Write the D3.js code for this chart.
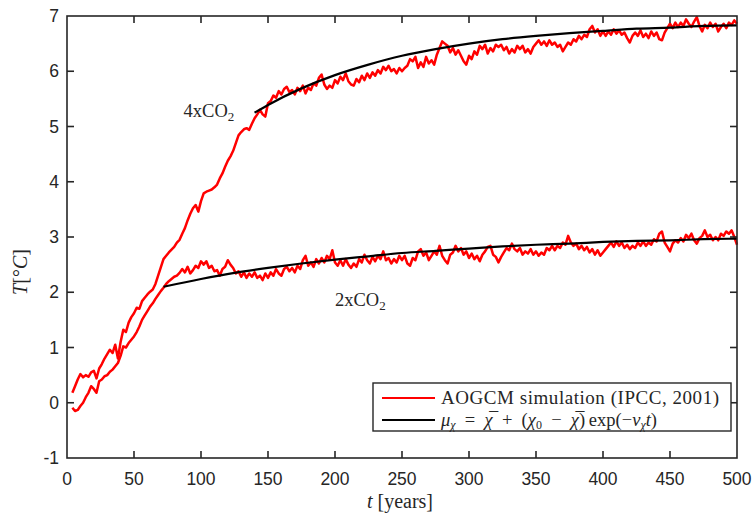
<!DOCTYPE html>
<html>
<head>
<meta charset="utf-8">
<script src="https://cdn.jsdelivr.net/npm/d3@7"></script>
<style>
  body { margin: 0; background: #fff; }
  svg text { fill: #262626; }
</style>
</head>
<body>
<svg id="chart" width="756" height="518"></svg>
<script>
// years of the AOGCM runs (every 2 years)
const years = d3.range(4, 501, 2);

// 4xCO2 run
const temp4x = [
  0.18,0.30,0.42,0.52,0.46,0.50,0.47,0.55,0.58,0.44,
  0.62,0.70,0.80,0.88,0.96,0.90,1.05,0.80,1.10,1.32,
  1.28,1.45,1.55,1.62,1.72,1.70,1.84,1.90,1.96,2.01,
  2.05,2.15,2.30,2.45,2.60,2.66,2.72,2.77,2.82,2.90,
  2.95,3.06,3.16,3.30,3.42,3.52,3.58,3.46,3.65,3.79,
  3.82,3.84,3.86,3.90,3.95,4.06,4.15,4.27,4.38,4.46,
  4.56,4.70,4.84,4.90,4.95,4.97,4.94,5.05,5.15,5.22,
  5.30,5.22,5.18,5.42,5.46,5.56,5.52,5.64,5.58,5.68,
  5.72,5.62,5.66,5.58,5.70,5.64,5.74,5.60,5.70,5.66,
  5.78,5.74,5.88,5.94,5.76,5.68,5.74,5.70,5.84,5.78,
  5.90,5.84,5.96,5.82,5.76,5.74,5.86,5.80,5.92,5.84,
  5.96,5.88,5.98,5.92,6.02,5.96,6.08,6.02,6.10,6.00,
  6.04,5.96,6.06,6.00,6.06,6.10,6.22,6.18,6.26,6.06,
  6.16,6.08,6.26,6.14,6.20,6.12,6.30,6.42,6.54,6.50,
  6.46,6.34,6.42,6.30,6.38,6.28,6.18,6.12,6.28,6.22,
  6.36,6.30,6.46,6.40,6.48,6.32,6.42,6.36,6.48,6.44,
  6.48,6.38,6.44,6.32,6.40,6.34,6.46,6.40,6.46,6.34,
  6.40,6.32,6.44,6.50,6.56,6.48,6.54,6.46,6.56,6.48,
  6.52,6.44,6.48,6.36,6.44,6.52,6.48,6.58,6.54,6.64,
  6.58,6.66,6.62,6.76,6.82,6.70,6.76,6.64,6.72,6.64,
  6.72,6.66,6.76,6.68,6.74,6.66,6.70,6.60,6.52,6.64,
  6.70,6.64,6.74,6.62,6.68,6.60,6.72,6.64,6.70,6.58,
  6.56,6.70,6.78,6.86,6.78,6.88,6.80,6.88,6.82,6.94,
  6.86,6.80,6.90,6.98,6.82,6.72,6.84,6.78,6.88,6.80,
  6.86,6.72,6.80,6.86,6.78,6.88,6.84,6.92,6.86
];

// 2xCO2 run
const temp2x = [
  -0.09,-0.15,-0.13,-0.06,0.00,0.10,0.18,0.30,0.25,0.18,
  0.39,0.42,0.48,0.50,0.56,0.60,0.66,0.72,0.85,1.02,
  1.00,1.08,1.14,1.20,1.28,1.38,1.50,1.58,1.66,1.74,
  1.80,1.88,1.95,2.02,2.08,2.15,2.20,2.24,2.28,2.30,
  2.35,2.42,2.36,2.46,2.34,2.40,2.48,2.44,2.56,2.50,
  2.56,2.44,2.48,2.38,2.40,2.30,2.42,2.46,2.58,2.50,
  2.44,2.34,2.38,2.28,2.36,2.26,2.34,2.28,2.36,2.26,
  2.30,2.22,2.34,2.26,2.36,2.30,2.42,2.34,2.30,2.42,
  2.46,2.38,2.44,2.36,2.48,2.42,2.58,2.66,2.48,2.54,
  2.46,2.60,2.52,2.62,2.54,2.66,2.60,2.76,2.54,2.48,
  2.58,2.48,2.60,2.50,2.44,2.52,2.46,2.60,2.54,2.68,
  2.58,2.52,2.64,2.56,2.66,2.60,2.74,2.58,2.62,2.52,
  2.60,2.54,2.66,2.58,2.66,2.52,2.48,2.62,2.58,2.74,
  2.78,2.66,2.72,2.58,2.66,2.74,2.68,2.84,2.66,2.58,
  2.52,2.68,2.72,2.84,2.74,2.80,2.68,2.74,2.62,2.70,
  2.60,2.66,2.56,2.68,2.74,2.82,2.84,2.68,2.64,2.54,
  2.64,2.72,2.80,2.76,2.88,2.78,2.74,2.80,2.68,2.74,
  2.70,2.78,2.68,2.74,2.66,2.72,2.68,2.80,2.76,2.84,
  2.76,2.84,2.80,2.90,2.86,3.02,2.90,2.84,2.88,2.78,
  2.84,2.76,2.82,2.72,2.78,2.68,2.76,2.66,2.72,2.78,
  2.84,2.90,2.82,2.92,2.84,2.90,2.80,2.86,2.78,2.84,
  2.80,2.90,2.84,2.92,2.84,2.90,2.86,2.96,2.92,3.06,
  3.10,2.90,2.82,2.74,2.88,2.94,2.90,2.98,2.92,3.04,
  2.98,3.06,2.94,2.88,2.98,3.02,3.12,3.00,3.04,2.94,
  3.00,2.94,3.06,3.02,3.10,3.06,3.12,3.00,2.86
];

// fitted relaxation curves (black)
const fitYears4x = [140,150,175,200,225,250,275,300,325,350,375,400,425,450,475,500];
const fit4x = [5.25,5.39,5.69,5.93,6.12,6.28,6.40,6.50,6.58,6.64,6.69,6.73,6.77,6.79,6.82,6.83];
const fitYears2x = [72,100,125,150,175,200,225,250,275,300,325,350,375,400,425,450,475,500];
const fit2x = [2.10,2.24,2.35,2.44,2.52,2.59,2.65,2.71,2.75,2.79,2.83,2.86,2.88,2.91,2.93,2.94,2.96,2.97];

const xTicks = [0,50,100,150,200,250,300,350,400,450,500];
const yTicks = [-1,0,1,2,3,4,5,6,7];

const svg = d3.select("#chart");
const margin = {left: 67, right: 19, top: 16, bottom: 60};
const W = 756, H = 518;

x = d3.scaleLinear().domain([0, 500]).range([margin.left, W - margin.right]);
y = d3.scaleLinear().domain([-1, 7]).range([H - margin.bottom, margin.top]);

const plot = svg.append("g");

line = d3.line().x(d => x(d[0])).y(d => y(d[1]));
fitLine = d3.line().curve(d3.curveMonotoneX).x(d => x(d[0])).y(d => y(d[1]));

[temp4x, temp2x].forEach(vals => {
    plot.append("path")
        .datum(years.map((t, i) => [t, vals[i]]).filter(d => d[1] !== undefined))
        .attr("d", line)
        .attr("fill", "none")
        .attr("stroke", "#ff0000")
        .attr("stroke-width", 2.5)
        .attr("stroke-linejoin", "round");
});

[[fitYears4x, fit4x], [fitYears2x, fit2x]].forEach(([ts, vals]) => {
    plot.append("path")
        .datum(ts.map((t, i) => [t, vals[i]]))
        .attr("d", fitLine)
        .attr("fill", "none")
        .attr("stroke", "#000")
        .attr("stroke-width", 2.2);
});

// axes box with inward ticks on all four sides
tickLen = 7;
axisColor = "#262626";
const axes = svg.append("g")
    .attr("stroke", axisColor)
    .attr("stroke-width", 1.6);

axes.append("rect")
    .attr("x", x(0)).attr("y", y(7))
    .attr("width", x(500) - x(0)).attr("height", y(-1) - y(7))
    .attr("fill", "none");

xTicks.slice(1, -1).forEach(t => {
    axes.append("line").attr("x1", x(t)).attr("x2", x(t)).attr("y1", y(-1)).attr("y2", y(-1) - tickLen);
    axes.append("line").attr("x1", x(t)).attr("x2", x(t)).attr("y1", y(7)).attr("y2", y(7) + tickLen);
});
yTicks.slice(1, -1).forEach(v => {
    axes.append("line").attr("x1", x(0)).attr("x2", x(0) + tickLen).attr("y1", y(v)).attr("y2", y(v));
    axes.append("line").attr("x1", x(500)).attr("x2", x(500) - tickLen).attr("y1", y(v)).attr("y2", y(v));
});

svg.append("g").selectAll("text")
    .data(xTicks)
    .join("text")
    .attr("x", d => x(d))
    .attr("y", y(-1) + 27)
    .attr("text-anchor", "middle")
    .style("font-family", "'Liberation Sans', Arial, sans-serif")
    .style("font-size", "17.5px")
    .text(d => d);

svg.append("g").selectAll("text")
    .data(yTicks)
    .join("text")
    .attr("x", x(0) - 8)
    .attr("y", d => y(d))
    .attr("dy", "0.35em")
    .attr("text-anchor", "end")
    .style("font-family", "'Liberation Sans', Arial, sans-serif")
    .style("font-size", "17.5px")
    .text(d => d);

serif = "'Liberation Serif', 'DejaVu Serif', serif";

// axis labels
xl = svg.append("text")
    .attr("x", 400).attr("y", 508)
    .attr("text-anchor", "middle")
    .style("font-family", serif).style("font-size", "20px");
xl.append("tspan").style("font-style", "italic").text("t");
xl.append("tspan").text(" [years]");

yl = svg.append("text")
    .attr("transform", "translate(27,272) rotate(-90)")
    .attr("text-anchor", "middle")
    .style("font-family", serif).style("font-size", "20px");
yl.append("tspan").style("font-style", "italic").text("T");
yl.append("tspan").text("[°");
yl.append("tspan").style("font-style", "italic").text("C");
yl.append("tspan").text("]");

// series annotations
function co2Label(txt, tx, ty) {
    lab = svg.append("text")
        .attr("x", x(tx)).attr("y", y(ty))
        .style("font-family", serif).style("font-size", "18.5px");
    lab.append("tspan").text(txt + "CO");
    lab.append("tspan").attr("dy", 4).style("font-size", "13px").text("2");
}
co2Label("4x", 87, 5.17);
co2Label("2x", 200, 1.75);

// legend
lg = svg.append("g");
lg.append("rect")
    .attr("x", 373).attr("y", 383).attr("width", 358).attr("height", 48)
    .attr("fill", "#fff").attr("stroke", axisColor).attr("stroke-width", 1.4);
lg.append("line").attr("x1", 382).attr("x2", 435).attr("y1", 398).attr("y2", 398)
    .attr("stroke", "#ff0000").attr("stroke-width", 2.2);
lg.append("line").attr("x1", 382).attr("x2", 435).attr("y1", 420).attr("y2", 420)
    .attr("stroke", "#000").attr("stroke-width", 2.2);
lg.append("text").attr("x", 441).attr("y", 404)
    .attr("textLength", 278).attr("lengthAdjust", "spacing")
    .style("font-family", serif).style("font-size", "19px")
    .text("AOGCM simulation (IPCC, 2001)");

// formula: μχ = χ̄ + (χ0 − χ̄) exp(−νχ t)
sp = "\u2002";
f = lg.append("text").attr("x", 441).attr("y", 426)
    .style("font-family", serif).style("font-size", "18.5px");
f.append("tspan").style("font-style", "italic").text("μ");
f.append("tspan").attr("dy", 3).style("font-size", "12px").style("font-style", "italic").text("χ");
f.append("tspan").attr("dy", -3).text(sp + "=" + sp);
f.append("tspan").style("font-style", "italic").text("χ\u0305");
f.append("tspan").text(sp + "+" + sp + "(");
f.append("tspan").style("font-style", "italic").text("χ");
f.append("tspan").attr("dy", 3).style("font-size", "12px").text("0");
f.append("tspan").attr("dy", -3).text(sp + "−" + sp);
f.append("tspan").style("font-style", "italic").text("χ\u0305");
f.append("tspan").text(")\u2009exp(−");
f.append("tspan").style("font-style", "italic").text("ν");
f.append("tspan").attr("dy", 3).style("font-size", "12px").style("font-style", "italic").text("χ");
f.append("tspan").attr("dy", -3).style("font-style", "italic").text("t");
f.append("tspan").text(")");
</script>
</body>
</html>
